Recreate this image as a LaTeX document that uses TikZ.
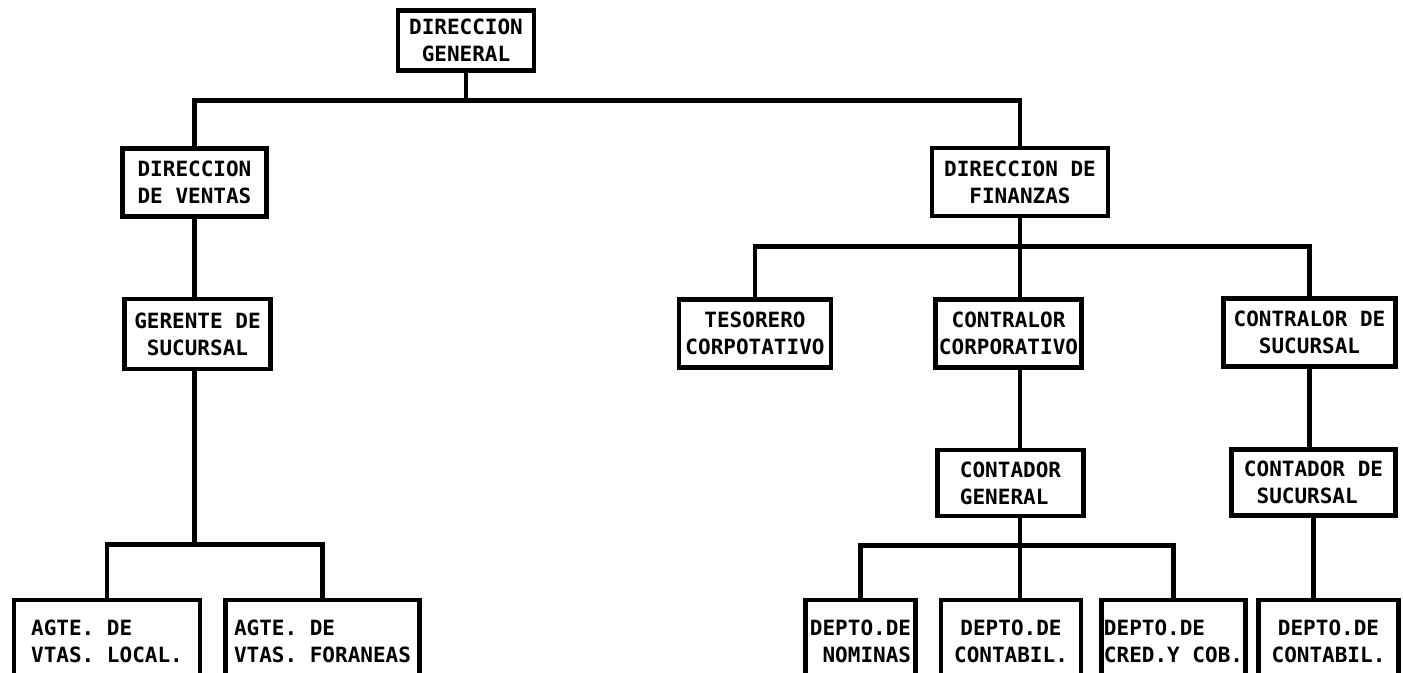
\documentclass[tikz,border=0pt]{standalone}
\usepackage{fontspec}
\setmonofont{DejaVu Sans Mono}
\usetikzlibrary{calc}
\tikzset{
  caja/.style={draw,line width=2.3pt,inner sep=0pt,align=center,
    font=\ttfamily\bfseries\fontsize{10.5}{13.5}\selectfont},
  cajab/.style={caja,minimum height=41pt},
  linea/.style={line width=2.3pt},
}
\begin{document}
\begin{tikzpicture}[x=0.5pt,y=-0.5pt]
  \useasboundingbox (0,0) rectangle (1403,673);
  \clip (0,0) rectangle (1403,673);
  % niveles superiores
  \node[caja,minimum width=68pt,minimum height=30pt] (gen) at (466,40.5) {DIRECCION\\GENERAL};
  \node[caja,minimum width=72pt,minimum height=34pt] (ventas) at (194.5,182.5) {DIRECCION\\DE VENTAS};
  \node[caja,minimum width=88pt,minimum height=34pt] (fin) at (1020,182) {DIRECCION DE\\FINANZAS};
  \node[caja,minimum width=73pt,minimum height=35pt] (ger) at (197.5,334) {GERENTE DE\\SUCURSAL};
  \node[caja,minimum width=76pt,minimum height=34pt] (teso) at (755,333.5) {TESORERO\\CORPOTATIVO};
  \node[caja,minimum width=73pt,minimum height=34pt] (ccorp) at (1008.5,333.5) {CONTRALOR\\CORPORATIVO};
  \node[caja,minimum width=86pt,minimum height=34pt] (csuc) at (1309.5,332.5) {CONTRALOR DE\\SUCURSAL};
  \node[caja,minimum width=73pt,minimum height=33pt,align=left] (cgen) at (1010.5,483) {CONTADOR\\GENERAL};
  \node[caja,minimum width=82pt,minimum height=33pt,align=left] (contsuc) at (1313.5,482.5) {CONTADOR DE\\\ SUCURSAL};
  % departamentos (cortados abajo)
  \node[cajab,minimum width=93pt,align=left] (agtel) at (107,641) {AGTE. DE\\VTAS. LOCAL.};
  \node[cajab,minimum width=97pt,align=left] (agtef) at (322.5,641) {AGTE. DE\\VTAS. FORANEAS};
  \node[cajab,minimum width=55pt] (nom) at (860.5,641) {DEPTO.DE\\\ NOMINAS};
  \node[cajab,minimum width=70pt] (dcont) at (1011,641) {DEPTO.DE\\CONTABIL.};
  \node[cajab,minimum width=72pt,align=left] (cred) at (1173.5,641) {DEPTO.DE\\CRED.Y COB.};
  \node[cajab,minimum width=70pt] (dcont2) at (1328.5,641) {DEPTO.DE\\CONTABIL.};
  % lineas
  \draw[linea] (gen.south) -- ++(0,28);
  \draw[linea] (ventas.north) |- ($(gen.south)+(0,28)$) -| (fin.north);
  \draw[linea] (ventas.south) -- (ventas.south |- ger.north);
  \draw[linea] (ger.south -| ventas.south) -- ++(0,173);
  \draw[linea] (agtel.north) |- ($(ger.south -| ventas.south)+(0,173)$) -| (agtef.north);
  \draw[linea] (fin.south) -- (fin.south |- ccorp.north);
  \draw[linea] (teso.north) |- ($(fin.south)+(0,28)$) -| (csuc.north);
  \draw[linea] (ccorp.south -| fin.south) -- (fin.south |- cgen.north);
  \draw[linea] (cgen.south -| fin.south) -- (fin.south |- dcont.north);
  \draw[linea] (nom.north) |- ($(cgen.south -| fin.south)+(0,27)$) -| (cred.north);
  \draw[linea] (csuc.south) -- (csuc.south |- contsuc.north);
  \draw[linea] (contsuc.south) -- (contsuc.south |- dcont2.north);
\end{tikzpicture}
\end{document}
